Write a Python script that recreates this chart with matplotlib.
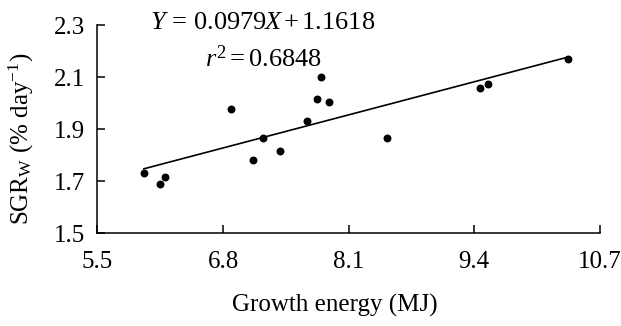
import matplotlib
matplotlib.use("Agg")
import matplotlib.pyplot as plt
import numpy as np

growth_energy = [5.98, 6.15, 6.20, 6.88, 7.11, 7.21, 7.39, 7.67, 7.77, 7.81, 7.90, 8.50, 9.46, 9.54, 10.37]
sgr_w = [1.730, 1.687, 1.714, 1.977, 1.783, 1.865, 1.817, 1.932, 2.015, 2.099, 2.005, 1.867, 2.058, 2.072, 2.168]
slope, intercept = 0.0979, 1.1618
r2 = 0.6848
x_ticks = [5.5, 6.8, 8.1, 9.4, 10.7]
y_ticks = [1.5, 1.7, 1.9, 2.1, 2.3]

plt.rcParams['font.family'] = ['Liberation Serif']
plt.rcParams['mathtext.fontset'] = 'custom'
plt.rcParams['mathtext.rm'] = 'Liberation Serif'
plt.rcParams['mathtext.it'] = 'Liberation Serif:italic'

fig = plt.figure(figsize=(6.21, 3.26), dpi=100)
ax = fig.add_axes([0.157, 0.285, 0.809, 0.638])

ax.scatter(growth_energy, sgr_w, s=22, color='black', zorder=3)
xs = np.array([min(growth_energy), max(growth_energy)])
ax.plot(xs, slope * xs + intercept, color='black', lw=1.2)

ax.set_xlim(x_ticks[0], x_ticks[-1])
ax.set_ylim(y_ticks[0], y_ticks[-1])
ax.set_xticks(x_ticks)
ax.set_yticks(y_ticks)
ax.set_xticklabels([f"{v:.1f}" for v in x_ticks])
ax.set_yticklabels([f"{v:.1f}" for v in y_ticks])
for s in ['top', 'right']:
    ax.spines[s].set_visible(False)
for s in ['left', 'bottom']:
    ax.spines[s].set_linewidth(1.1)
ax.tick_params(direction='in', length=6, width=1.1, labelsize=18)
ax.tick_params(axis='x', pad=13)
ax.tick_params(axis='y', pad=9)

ax.set_xlabel("Growth energy (MJ)", fontsize=18, va='center')
ax.xaxis.set_label_coords(0.473, -0.346)
ax.set_ylabel(r"SGR$_\mathrm{W}$ (% day$^{-1}$)", fontsize=18, va='center')
ax.yaxis.set_label_coords(-0.151, 0.452)

ax.text(0.328, 1.01, r"$Y\,\mathrm{=}\,0.0979X\,\mathrm{+}\,1.1618$", transform=ax.transAxes,
        fontsize=19, ha='center', va='center')
ax.text(0.33, 0.84, r"$r^2\mathrm{=}0.6848$", transform=ax.transAxes,
        fontsize=19, ha='center', va='center')

fig.savefig("out.png", dpi=100)
